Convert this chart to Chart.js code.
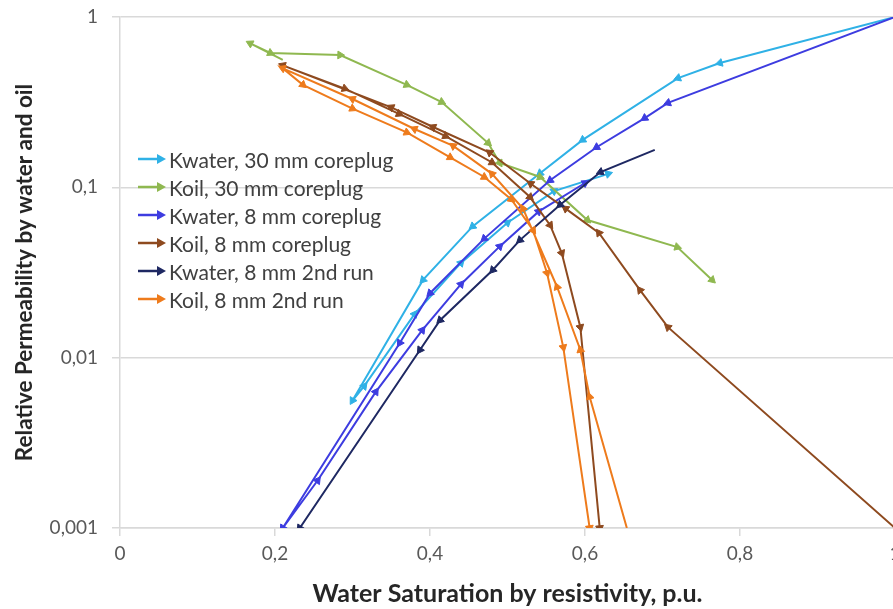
<!DOCTYPE html>
<html>
<head>
<meta charset="utf-8">
<script src="https://cdn.jsdelivr.net/npm/chart.js@4/dist/chart.umd.min.js"></script>
<style>
  html, body { margin: 0; padding: 0; overflow: hidden; background: #fff; }
  #wrap { position: relative; width: 910px; height: 609px; }
  #legend { position: absolute; left: 138px; top: 145px; font-family: Lato, sans-serif; font-size: 21px; color: #404040; }
  #legend div { height: 28px; display: flex; align-items: center; white-space: nowrap; }
  #legend svg { margin-right: 3px; }
</style>
</head>
<body>
<div id="wrap">
  <canvas id="chart"></canvas>
  <div id="legend"></div>
</div>
<script>
// series names and colours
const seriesNames = ['Kwater, 30 mm coreplug', 'Koil, 30 mm coreplug', 'Kwater, 8 mm coreplug',
                     'Koil, 8 mm coreplug', 'Kwater, 8 mm 2nd run', 'Koil, 8 mm 2nd run'];
const seriesColors = ['#2fb1e6', '#8fb850', '#3d3ce0', '#8e4a1f', '#1e2862', '#ee7b1c'];

// water saturation (x) and relative permeability (y)
const kwater30X = [1.0, 0.774, 0.72, 0.597, 0.542, 0.455, 0.391, 0.30, 0.315, 0.38, 0.44, 0.50, 0.56, 0.63];
const kwater30Y = [1.0, 0.537, 0.438, 0.19, 0.121, 0.059, 0.0286, 0.0056, 0.0068, 0.018, 0.036, 0.062, 0.095, 0.12];

const koil30X = [0.21, 0.168, 0.194, 0.284, 0.37, 0.415, 0.475, 0.49, 0.542, 0.603, 0.719, 0.764];
const koil30Y = [0.56, 0.70, 0.615, 0.598, 0.40, 0.317, 0.182, 0.139, 0.115, 0.0643, 0.0446, 0.0286];

const kwater8X = [1.0, 0.707, 0.677, 0.615, 0.555, 0.47, 0.40, 0.361, 0.21, 0.255, 0.33, 0.39, 0.44, 0.49, 0.54, 0.60];
const kwater8Y = [1.0, 0.313, 0.255, 0.172, 0.11, 0.05, 0.0239, 0.0122, 0.001, 0.0019, 0.0063, 0.0145, 0.027, 0.045, 0.072, 0.106];

const koil8X = [1.0, 0.707, 0.671, 0.618, 0.575, 0.53, 0.477, 0.404, 0.35, 0.21, 0.29, 0.36, 0.42, 0.48, 0.529, 0.555, 0.570, 0.594, 0.619];
const koil8Y = [0.001, 0.0151, 0.0249, 0.054, 0.075, 0.105, 0.16, 0.226, 0.295, 0.52, 0.38, 0.27, 0.2, 0.14, 0.0877, 0.06, 0.0411, 0.0151, 0.001];

const kwater8bX = [0.69, 0.62, 0.568, 0.516, 0.481, 0.413, 0.387, 0.232];
const kwater8bY = [0.166, 0.123, 0.079, 0.049, 0.0327, 0.0166, 0.0111, 0.001];

const koil8bX = [0.654, 0.606, 0.594, 0.564, 0.52, 0.48, 0.43, 0.38, 0.30, 0.21, 0.236, 0.30, 0.37, 0.426, 0.47, 0.505, 0.533, 0.551, 0.572, 0.606];
const koil8bY = [0.001, 0.0059, 0.0111, 0.026, 0.075, 0.12, 0.175, 0.22, 0.33, 0.5, 0.40, 0.29, 0.21, 0.15, 0.115, 0.085, 0.056, 0.0314, 0.0115, 0.001];

const xTicks = [0, 0.2, 0.4, 0.6, 0.8, 1];
const yTicks = [0.001, 0.01, 0.1, 1];

const seriesX = [kwater30X, koil30X, kwater8X, koil8X, kwater8bX, koil8bX];
const seriesY = [kwater30Y, koil30Y, kwater8Y, koil8Y, kwater8bY, koil8bY];

function toPoints(xs, ys) {
  return xs.map((x, i) => ({ x: x, y: ys[i] }));
}

// arrow head at each point, turned along the incoming segment
function prevPoint(ctx) {
  const d = ctx.dataset.data;
  const i = ctx.dataIndex;
  if (i === 0 || d[i - 1].y === null || d[i].y === null) return null;
  return d[i - 1];
}
function arrowRadius(ctx) {
  return prevPoint(ctx) ? 4.5 : 0;
}
function arrowRotation(ctx) {
  const p = prevPoint(ctx);
  if (!p) return 0;
  const sx = ctx.chart.scales.x, sy = ctx.chart.scales.y;
  const c = ctx.dataset.data[ctx.dataIndex];
  const dx = sx.getPixelForValue(c.x) - sx.getPixelForValue(p.x);
  const dy = sy.getPixelForValue(c.y) - sy.getPixelForValue(p.y);
  return Math.atan2(dx, -dy) * 180 / Math.PI;
}

const datasets = seriesNames.map((name, i) => ({
  label: name,
  data: toPoints(seriesX[i], seriesY[i]),
  borderColor: seriesColors[i],
  backgroundColor: seriesColors[i],
  borderWidth: 2,
  pointStyle: 'triangle',
  pointRadius: arrowRadius,
  pointRotation: arrowRotation,
  pointBackgroundColor: seriesColors[i],
  pointBorderColor: seriesColors[i],
  pointBorderWidth: 1,
  showLine: true,
  tension: 0,
  order: -i
}));

const fmt = v => String(+Number(v).toFixed(3)).replace('.', ',');

new Chart(document.getElementById('chart'), {
  type: 'scatter',
  data: { datasets: datasets },
  options: {
    responsive: true,
    maintainAspectRatio: false,
    animation: false,
    layout: { padding: { top: 17, right: 15, left: 0, bottom: 0 } },
    plugins: { legend: { display: false }, tooltip: { enabled: false } },
    scales: {
      x: {
        type: 'linear',
        min: 0,
        max: 1,
        afterBuildTicks: s => { s.ticks = xTicks.map(v => ({ value: v })); },
        afterFit: s => { s.height = 81; s.paddingLeft = 0; s.paddingRight = 0; },
        ticks: { callback: fmt, color: '#595959', font: { family: 'Lato', size: 19 }, padding: 6, maxRotation: 0 },
        grid: { drawOnChartArea: false, drawTicks: true, tickLength: 8, color: '#d9d9d9', lineWidth: 1.5 },
        border: { display: true, color: '#d9d9d9', width: 1.5 },
        title: { display: true, text: 'Water Saturation by resistivity, p.u.', color: '#262626',
                 font: { family: 'Lato', size: 25, weight: 'bold' }, padding: { top: 0, bottom: 0 } }
      },
      y: {
        type: 'logarithmic',
        min: 0.001,
        max: 1,
        afterBuildTicks: s => { s.ticks = yTicks.map(v => ({ value: v })); },
        afterFit: s => { s.width = 120; s.paddingTop = 0; s.paddingBottom = 0; },
        ticks: { callback: fmt, color: '#595959', font: { family: 'Lato', size: 19 }, padding: 14 },
        grid: { color: '#d9d9d9', lineWidth: 1.5, tickLength: 8 },
        border: { display: true, color: '#d9d9d9', width: 1.5 },
        title: { display: true, text: 'Relative Permeability by water and oil', color: '#262626',
                 font: { family: 'Lato', size: 22.5, weight: 'bold' }, padding: { top: 11, bottom: 0 } }
      }
    }
  }
});

// legend inside the plot, drawn as html text with arrow marks
const legend = document.getElementById('legend');
seriesNames.forEach((name, i) => {
  const row = document.createElement('div');
  const c = seriesColors[i];
  row.innerHTML = '<svg width="28" height="12"><line x1="0" y1="6" x2="22" y2="6" stroke="' + c +
    '" stroke-width="2.5"/><polygon points="28,6 19,1 19,11" fill="' + c + '"/></svg><span>' + name + '</span>';
  legend.appendChild(row);
});
</script>
</body>
</html>
